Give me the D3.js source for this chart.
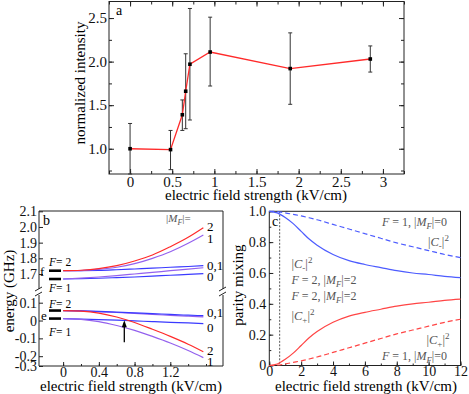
<!DOCTYPE html>
<html>
<head>
<meta charset="utf-8">
<script src="https://cdn.jsdelivr.net/npm/d3@7"></script>
<style>
  body { margin: 0; background: #fff; }
  svg { display: block; font-family: "Liberation Serif", "DejaVu Serif", serif; }
</style>
</head>
<body>
<div id="chart"></div>
<script>
// ---------- panel a: measured intensity ----------
var fieldA    = [0, 0.48, 0.62, 0.66, 0.71, 0.95, 1.90, 2.85];
var intensity = [1.00, 0.99, 1.39, 1.66, 1.97, 2.11, 1.92, 2.03];
var errHigh   = [1.29, 1.21, 1.56, 2.09, 2.61, 2.51, 2.33, 2.18];
var errLow    = [0.71, 0.76, 1.21, 1.23, 1.33, 1.72, 1.51, 1.88];

// ---------- panel b: Stark shifted levels ----------
var fieldB = [0, 0.2, 0.4, 0.6, 0.8, 1.0, 1.2, 1.4, 1.57];
// upper (f) manifold, GHz
var fF2M2 = [1.721, 1.724, 1.734, 1.753, 1.783, 1.821, 1.874, 1.934, 1.995];
var fF2M1 = [1.721, 1.722, 1.730, 1.743, 1.766, 1.800, 1.842, 1.896, 1.949];
var fF2M0 = [1.721, 1.722, 1.723, 1.727, 1.732, 1.737, 1.743, 1.748, 1.753];
var fF1M1 = [1.668, 1.674, 1.681, 1.690, 1.700, 1.710, 1.721, 1.731, 1.740];
var fF1M0 = [1.668, 1.670, 1.673, 1.677, 1.681, 1.686, 1.692, 1.697, 1.702];
// lower (e) manifold, GHz
var eF2M2 = [0.056, 0.053, 0.042, 0.020, -0.011, -0.049, -0.089, -0.133, -0.175];
var eF2M1 = [0.056, 0.054, 0.049, 0.045, 0.040, 0.034, 0.029, 0.024, 0.020];
var eF2M0 = [0.056, 0.054, 0.051, 0.047, 0.043, 0.039, 0.034, 0.030, 0.027];
var eF1M1 = [0.011, 0.007, -0.006, -0.028, -0.055, -0.089, -0.126, -0.168, -0.208];
var eF1M0 = [0.011, 0.008, 0.005, 0.002, -0.002, -0.006, -0.010, -0.013, -0.017];
var levelsF = [1.721, 1.668];
var levelsE = [0.056, 0.011];
var crossing = 0.685;   // arrow position (kV/cm)

// ---------- panel c: parity mixing ----------
var fieldC     = [0, 0.5, 1, 1.5, 2, 2.5, 3, 4, 5, 6, 7, 8, 9, 10, 11, 12];
var cMinusF2   = [1.0, 0.99, 0.96, 0.92, 0.87, 0.82, 0.78, 0.72, 0.68, 0.655, 0.635, 0.615, 0.60, 0.59, 0.578, 0.57];
var cPlusF2    = [0, 0.01, 0.04, 0.08, 0.13, 0.18, 0.22, 0.28, 0.32, 0.345, 0.365, 0.385, 0.40, 0.41, 0.422, 0.43];
var cMinusF1   = [1.0, 0.998, 0.99, 0.98, 0.97, 0.958, 0.945, 0.915, 0.885, 0.855, 0.825, 0.795, 0.77, 0.745, 0.72, 0.70];
var cPlusF1    = [0, 0.002, 0.01, 0.02, 0.03, 0.042, 0.055, 0.085, 0.115, 0.145, 0.175, 0.205, 0.23, 0.255, 0.28, 0.30];
var markField  = 0.65;

var RED = "#ff2a2a", PURPLE = "#9461ee", BLUE = "#3a3aff";
var RED_C = "#ff4545", BLUE_C = "#4d5cff";
var GREY = "#555";

var svg = d3.select("#chart").append("svg")
    .attr("width", 469)
    .attr("height", 394);

function hyph(f) {
    return function(d) { return d === 0 ? "0" : d3.format(f)(d).replace("\u2212", "-"); };
}

// small helper for labels with italic / sub / sup parts
function richText(g, x, y, parts, size, color) {
    var t = g.append("text").attr("x", x).attr("y", y)
        .attr("font-size", size).attr("fill", color || "#000");
    var shift = 0;
    parts.forEach(function(p) {
        var ts = t.append("tspan").text(p.t);
        var target = p.sub ? size * 0.28 : p.sup ? -size * 0.38 : 0;
        if (target !== shift) { ts.attr("dy", target - shift); shift = target; }
        if (p.sub || p.sup) ts.attr("font-size", size * 0.72);
        if (p.i) ts.attr("font-style", "italic");
    });
    return t;
}

function styleAxis(g, size) {
    g.select(".domain").remove();
    g.selectAll("line").attr("stroke", "#222");
    g.selectAll("text").attr("font-size", size).attr("fill", "#111")
        .attr("font-family", "Liberation Serif, DejaVu Serif, serif");
}

// =========================== panel a ===========================
var ax = d3.scaleLinear().domain([-0.25, 3.25]).range([109, 404]);
var ay = d3.scaleLinear().domain([0.71, 2.69]).range([174, 1.5]);
var ga = svg.append("g");

var axTicks = d3.range(0, 3.01, 0.5), axMinor = d3.range(-0.25, 3.3, 0.25);
var ayTicks = [1.0, 1.5, 2.0, 2.5], ayMinor = d3.range(0.75, 2.7, 0.25);

ga.append("g").attr("transform", "translate(0,174)")
    .call(d3.axisBottom(ax).tickValues(axMinor).tickSize(-3).tickFormat(""))
    .call(styleAxis, 15);
ga.append("g").attr("transform", "translate(0,174)")
    .call(d3.axisBottom(ax).tickValues(axTicks).tickSize(-5).tickPadding(2).tickFormat(d3.format("~g")))
    .call(styleAxis, 15);
ga.append("g").attr("transform", "translate(0,1.5)")
    .call(d3.axisTop(ax).tickValues(axMinor).tickSize(-3).tickFormat(""))
    .call(styleAxis, 15);
ga.append("g").attr("transform", "translate(0,1.5)")
    .call(d3.axisTop(ax).tickValues(axTicks).tickSize(-5).tickFormat(""))
    .call(styleAxis, 15);
ga.append("g").attr("transform", "translate(109,0)")
    .call(d3.axisLeft(ay).tickValues(ayMinor).tickSize(-3).tickFormat(""))
    .call(styleAxis, 15);
ga.append("g").attr("transform", "translate(109,0)")
    .call(d3.axisLeft(ay).tickValues(ayTicks).tickSize(-5).tickPadding(2).tickFormat(d3.format(".1f")))
    .call(styleAxis, 15);
ga.append("g").attr("transform", "translate(404,0)")
    .call(d3.axisRight(ay).tickValues(ayMinor).tickSize(-3).tickFormat(""))
    .call(styleAxis, 15);
ga.append("g").attr("transform", "translate(404,0)")
    .call(d3.axisRight(ay).tickValues(ayTicks).tickSize(-5).tickFormat(""))
    .call(styleAxis, 15);

ga.append("rect").attr("x", 109).attr("y", 1.5).attr("width", 295).attr("height", 172.5)
    .attr("fill", "none").attr("stroke", "#222").attr("stroke-width", 1);

var ptsA = fieldA.map(function(x, i) { return { x: x, y: intensity[i], hi: errHigh[i], lo: errLow[i] }; });

ga.selectAll(".err").data(ptsA).enter().append("line")
    .attr("x1", function(d) { return ax(d.x); }).attr("x2", function(d) { return ax(d.x); })
    .attr("y1", function(d) { return ay(d.hi); }).attr("y2", function(d) { return ay(d.lo); })
    .attr("stroke", "#333").attr("stroke-width", 1);
ga.selectAll(".capT").data(ptsA).enter().append("line")
    .attr("x1", function(d) { return ax(d.x) - 2; }).attr("x2", function(d) { return ax(d.x) + 2; })
    .attr("y1", function(d) { return ay(d.hi); }).attr("y2", function(d) { return ay(d.hi); })
    .attr("stroke", "#333");
ga.selectAll(".capB").data(ptsA).enter().append("line")
    .attr("x1", function(d) { return ax(d.x) - 2; }).attr("x2", function(d) { return ax(d.x) + 2; })
    .attr("y1", function(d) { return ay(d.lo); }).attr("y2", function(d) { return ay(d.lo); })
    .attr("stroke", "#333");

ga.append("path").datum(ptsA)
    .attr("d", d3.line().x(function(d) { return ax(d.x); }).y(function(d) { return ay(d.y); }))
    .attr("fill", "none").attr("stroke", RED).attr("stroke-width", 1.3);

ga.selectAll(".pt").data(ptsA).enter().append("rect")
    .attr("x", function(d) { return ax(d.x) - 1.8; }).attr("y", function(d) { return ay(d.y) - 1.8; })
    .attr("width", 3.6).attr("height", 3.6).attr("fill", "#000");

ga.append("text").attr("x", 116).attr("y", 15).attr("font-size", 14).text("a");
ga.append("text").attr("transform", "translate(80,83) rotate(-90)")
    .attr("text-anchor", "middle").attr("dominant-baseline", "central")
    .attr("font-size", 15).text("normalized intensity");
ga.append("text").attr("x", 256).attr("y", 200).attr("text-anchor", "middle")
    .attr("font-size", 15).text("electric field strength (kV/cm)");

// =========================== panel b ===========================
var bx = d3.scaleLinear().domain([-0.27, 1.79]).range([39, 223]);
var byUp = d3.scaleLinear().domain([1.7, 2.1]).range([274, 211.3]);
var byLow = d3.scaleLinear().domain([-0.255, 0.16]).range([366, 292]).clamp(true);
var gb = svg.append("g");
var breakY = 292;

gb.append("g").attr("transform", "translate(0,366)")
    .call(d3.axisBottom(bx).tickValues(d3.range(0, 1.65, 0.2)).tickSize(-2).tickFormat(""))
    .call(styleAxis, 14);
gb.append("g").attr("transform", "translate(0,366)")
    .call(d3.axisBottom(bx).tickValues([0, 0.4, 0.8, 1.2]).tickSize(-4).tickPadding(1).tickFormat(hyph(".1f")))
    .call(styleAxis, 14);
gb.append("g").attr("transform", "translate(39,0)")
    .call(d3.axisLeft(byUp).tickValues([1.7, 1.8, 1.9, 2.0, 2.1]).tickSize(-4).tickPadding(2).tickFormat(d3.format(".1f")))
    .call(styleAxis, 14);
gb.append("g").attr("transform", "translate(39,0)")
    .call(d3.axisLeft(byLow).tickValues([0.1, 0, -0.1, -0.2, -0.3]).tickSize(-4).tickPadding(2).tickFormat(hyph(".1f")))
    .call(styleAxis, 14);

// frame with a break on both vertical sides
var frameB = gb.append("g").attr("stroke", "#222").attr("stroke-width", 1).attr("fill", "none");
frameB.append("line").attr("x1", 39).attr("x2", 223).attr("y1", 211).attr("y2", 211);
frameB.append("line").attr("x1", 39).attr("x2", 223).attr("y1", 366).attr("y2", 366);
[39, 223].forEach(function(x) {
    frameB.append("line").attr("x1", x).attr("x2", x).attr("y1", 211).attr("y2", breakY - 3);
    frameB.append("line").attr("x1", x).attr("x2", x).attr("y1", breakY + 3).attr("y2", 366);
    frameB.append("line").attr("x1", x - 4).attr("x2", x + 3).attr("y1", breakY - 1).attr("y2", breakY - 5);
    frameB.append("line").attr("x1", x - 4).attr("x2", x + 3).attr("y1", breakY + 4).attr("y2", breakY);
});

var lineUp = d3.line().curve(d3.curveMonotoneX)
    .x(function(d, i) { return bx(fieldB[i]); }).y(function(d) { return byUp(d); });
var lineLow = d3.line().curve(d3.curveMonotoneX)
    .x(function(d, i) { return bx(fieldB[i]); }).y(function(d) { return byLow(d); });

var curvesUp = [[fF1M0, BLUE], [fF1M1, PURPLE], [fF2M0, BLUE], [fF2M1, PURPLE], [fF2M2, RED]];
var curvesLow = [[eF1M0, BLUE], [eF1M1, PURPLE], [eF2M1, PURPLE], [eF2M0, BLUE], [eF2M2, RED]];
curvesUp.forEach(function(c) {
    gb.append("path").attr("d", lineUp(c[0])).attr("fill", "none")
        .attr("stroke", c[1]).attr("stroke-width", 1.2);
});
curvesLow.forEach(function(c) {
    gb.append("path").attr("d", lineLow(c[0])).attr("fill", "none")
        .attr("stroke", c[1]).attr("stroke-width", 1.2);
});

// zero-field level bars
levelsF.forEach(function(v) {
    gb.append("line").attr("x1", 49).attr("x2", 61).attr("y1", byUp(v)).attr("y2", byUp(v))
        .attr("stroke", "#000").attr("stroke-width", 2.6);
});
levelsE.forEach(function(v) {
    gb.append("line").attr("x1", 49).attr("x2", 61).attr("y1", byLow(v)).attr("y2", byLow(v))
        .attr("stroke", "#000").attr("stroke-width", 2.6);
});

// arrow at the level crossing
gb.append("line").attr("x1", bx(crossing)).attr("x2", bx(crossing))
    .attr("y1", byLow(-0.122)).attr("y2", byLow(-0.013))
    .attr("stroke", "#000").attr("stroke-width", 1.3);
gb.append("path")
    .attr("d", "M" + bx(crossing) + "," + byLow(0.001) + "l-2.5,7h5z")
    .attr("fill", "#000");

gb.append("text").attr("x", 43).attr("y", 224.5).attr("font-size", 14).text("b");
gb.append("text").attr("x", 40).attr("y", 275.5).attr("font-size", 13).text("f");
gb.append("text").attr("x", 41).attr("y", 319.5).attr("font-size", 13).text("e");
richText(gb, 49, 266, [{ t: "F", i: true }, { t: "= 2" }], 11.5);
richText(gb, 49, 292, [{ t: "F", i: true }, { t: "= 1" }], 11.5);
richText(gb, 49, 307.5, [{ t: "F", i: true }, { t: "= 2" }], 11.5);
richText(gb, 49, 336, [{ t: "F", i: true }, { t: "= 1" }], 11.5);
richText(gb, 166, 222, [{ t: "|" }, { t: "M", i: true }, { t: "F", i: true, sub: true }, { t: "|=" }], 11, GREY);

var endLabels = [["2", 231], ["1", 242.5], ["0,1", 269.5], ["0", 281],
                 ["0,1", 316.5], ["0", 331.5], ["2", 354.5], ["1", 365.5]];
endLabels.forEach(function(l) {
    gb.append("text").attr("x", 207).attr("y", l[1]).attr("font-size", 13).text(l[0]);
});

gb.append("text").attr("transform", "translate(9,291) rotate(-90)")
    .attr("text-anchor", "middle").attr("dominant-baseline", "central")
    .attr("font-size", 15).text("energy (GHz)");
gb.append("text").attr("x", 131).attr("y", 390.5).attr("text-anchor", "middle")
    .attr("font-size", 15).text("electric field strength (kV/cm)");

// =========================== panel c ===========================
var cx = d3.scaleLinear().domain([0, 12]).range([269.3, 460.5]);
var cy = d3.scaleLinear().domain([0, 1]).range([365.5, 211.3]);
var gc = svg.append("g");

gc.append("g").attr("transform", "translate(0,365.5)")
    .call(d3.axisBottom(cx).tickValues(d3.range(0, 12.1, 1)).tickSize(-2).tickFormat(""))
    .call(styleAxis, 14);
gc.append("g").attr("transform", "translate(0,365.5)")
    .call(d3.axisBottom(cx).tickValues(d3.range(0, 12.1, 2)).tickSize(-4).tickPadding(1))
    .call(styleAxis, 14);
gc.append("g").attr("transform", "translate(269.3,0)")
    .call(d3.axisLeft(cy).tickValues(d3.range(0, 1.01, 0.1)).tickSize(-2).tickFormat(""))
    .call(styleAxis, 14);
gc.append("g").attr("transform", "translate(269.3,0)")
    .call(d3.axisLeft(cy).tickValues([0, 0.2, 0.4, 0.6, 0.8, 1.0]).tickSize(-4).tickPadding(3).tickFormat(hyph(".1f")))
    .call(styleAxis, 14);

gc.append("rect").attr("x", 269.3).attr("y", 211.3).attr("width", 191.2).attr("height", 154.2)
    .attr("fill", "none").attr("stroke", "#222").attr("stroke-width", 1);

gc.append("line").attr("x1", cx(markField)).attr("x2", cx(markField))
    .attr("y1", cy(1)).attr("y2", cy(0))
    .attr("stroke", "#444").attr("stroke-width", 0.9).attr("stroke-dasharray", "2,1.5");

var lineC = d3.line().curve(d3.curveMonotoneX)
    .x(function(d, i) { return cx(fieldC[i]); }).y(function(d) { return cy(d); });

[[cMinusF2, BLUE_C, null], [cPlusF2, RED_C, null],
 [cMinusF1, BLUE_C, "5,3"], [cPlusF1, RED_C, "5,3"]].forEach(function(c) {
    gc.append("path").attr("d", lineC(c[0])).attr("fill", "none")
        .attr("stroke", c[1]).attr("stroke-width", 1.2)
        .attr("stroke-dasharray", c[2]);
});

gc.append("text").attr("x", 272).attr("y", 226).attr("font-size", 14).text("c");

function fLabel(x, y, f, m) {
    richText(gc, x, y, [{ t: "F", i: true }, { t: " = " + f + ",  |" }, { t: "M", i: true },
        { t: "F", i: true, sub: true }, { t: "|=" + m }], 12, GREY);
}
function cLabel(x, y, s) {
    richText(gc, x, y, [{ t: "|" }, { t: "C", i: true }, { t: s, sub: true }, { t: "|" }, { t: "2", sup: true }], 12.5, GREY);
}
fLabel(382, 226, 1, 0);
cLabel(428, 245.5, "-");
cLabel(291.5, 267.5, "-");
fLabel(291.5, 283.5, 2, 2);
fLabel(291.5, 300, 2, 2);
cLabel(291.5, 319.5, "+");
cLabel(426.5, 343.5, "+");
fLabel(382, 359.5, 1, 0);

gc.append("text").attr("transform", "translate(238,285) rotate(-90)")
    .attr("text-anchor", "middle").attr("dominant-baseline", "central")
    .attr("font-size", 15).text("parity mixing");
gc.append("text").attr("x", 366).attr("y", 390.5).attr("text-anchor", "middle")
    .attr("font-size", 15).text("electric field strength (kV/cm)");
</script>
</body>
</html>
